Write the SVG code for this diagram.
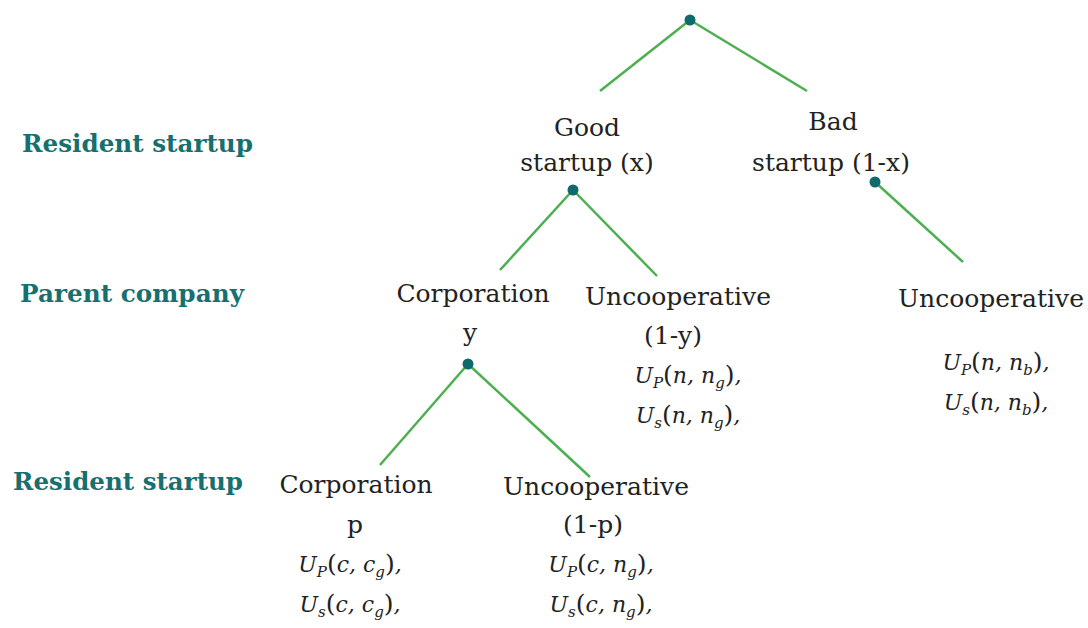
<svg xmlns="http://www.w3.org/2000/svg" width="1088" height="628" viewBox="0 0 1088 628">
<style>
.lbl{font-family:"DejaVu Serif","Liberation Serif",serif;font-weight:bold;font-size:25px;fill:#17706f}
.t{font-family:"DejaVu Serif","Liberation Serif",serif;font-size:25px;fill:#222;text-anchor:middle}
.m{font-family:"DejaVu Serif","Liberation Serif",serif;font-style:italic;font-size:22px;fill:#222;text-anchor:middle}
.s{font-size:15px}
.u{font-style:normal;font-size:25px}
.e{stroke:#4caf50;stroke-width:2.5;fill:none}
.d{fill:#0f6b6b}
</style>
<rect width="1088" height="628" fill="#fff"/>
<g id="labels">
<text class="lbl" x="22" y="152" textLength="231" lengthAdjust="spacingAndGlyphs">Resident startup</text>
<text class="lbl" x="20" y="302" textLength="224" lengthAdjust="spacingAndGlyphs">Parent company</text>
<text class="lbl" x="13" y="490" textLength="230" lengthAdjust="spacingAndGlyphs">Resident startup</text>
</g>
<g id="connectors">
<line class="e" x1="690" y1="20" x2="600" y2="91"/>
<line class="e" x1="690" y1="20" x2="807" y2="91"/>
<line class="e" x1="573" y1="190" x2="500" y2="270"/>
<line class="e" x1="573" y1="190" x2="657" y2="276"/>
<line class="e" x1="875" y1="182" x2="963" y2="262"/>
<line class="e" x1="468" y1="364" x2="380" y2="465"/>
<line class="e" x1="468" y1="364" x2="590" y2="477"/>
</g>
<g id="root"><circle class="d" cx="690" cy="20" r="5.5"/></g>
<g id="good">
<text class="t" x="587" y="136">Good</text>
<text class="t" x="587" y="171">startup (x)</text>
<circle class="d" cx="573" cy="190" r="5.5"/>
</g>
<g id="bad">
<text class="t" x="833" y="130">Bad</text>
<text class="t" x="831" y="171">startup (1-x)</text>
<circle class="d" cx="875" cy="182" r="5.5"/>
</g>
<g id="corp1">
<text class="t" x="473" y="302">Corporation</text>
<text class="t" x="470" y="341">y</text>
<circle class="d" cx="468" cy="364" r="5.5"/>
</g>
<g id="uncoop1">
<text class="t" x="678" y="305">Uncooperative</text>
<text class="t" x="673" y="344">(1-y)</text>
<text class="m" x="688" y="383">U<tspan class="s" dy="5">P</tspan><tspan class="u" dy="-5">(</tspan>n, n<tspan class="s" dy="5">g</tspan><tspan class="u" dy="-5">)</tspan>,</text>
<text class="m" x="688" y="423">U<tspan class="s" dy="5">s</tspan><tspan class="u" dy="-5">(</tspan>n, n<tspan class="s" dy="5">g</tspan><tspan class="u" dy="-5">)</tspan>,</text>
</g>
<g id="uncoop2">
<text class="t" x="991" y="307">Uncooperative</text>
<text class="m" x="996" y="370">U<tspan class="s" dy="5">P</tspan><tspan class="u" dy="-5">(</tspan>n, n<tspan class="s" dy="5">b</tspan><tspan class="u" dy="-5">)</tspan>,</text>
<text class="m" x="996" y="410">U<tspan class="s" dy="5">s</tspan><tspan class="u" dy="-5">(</tspan>n, n<tspan class="s" dy="5">b</tspan><tspan class="u" dy="-5">)</tspan>,</text>
</g>
<g id="corp2">
<text class="t" x="356" y="493">Corporation</text>
<text class="t" x="355" y="533">p</text>
<text class="m" x="350" y="572">U<tspan class="s" dy="5">P</tspan><tspan class="u" dy="-5">(</tspan>c, c<tspan class="s" dy="5">g</tspan><tspan class="u" dy="-5">)</tspan>,</text>
<text class="m" x="350" y="612">U<tspan class="s" dy="5">s</tspan><tspan class="u" dy="-5">(</tspan>c, c<tspan class="s" dy="5">g</tspan><tspan class="u" dy="-5">)</tspan>,</text>
</g>
<g id="uncoop3">
<text class="t" x="596" y="495">Uncooperative</text>
<text class="t" x="593" y="533">(1-p)</text>
<text class="m" x="601" y="572">U<tspan class="s" dy="5">P</tspan><tspan class="u" dy="-5">(</tspan>c, n<tspan class="s" dy="5">g</tspan><tspan class="u" dy="-5">)</tspan>,</text>
<text class="m" x="601" y="612">U<tspan class="s" dy="5">s</tspan><tspan class="u" dy="-5">(</tspan>c, n<tspan class="s" dy="5">g</tspan><tspan class="u" dy="-5">)</tspan>,</text>
</g>
</svg>
